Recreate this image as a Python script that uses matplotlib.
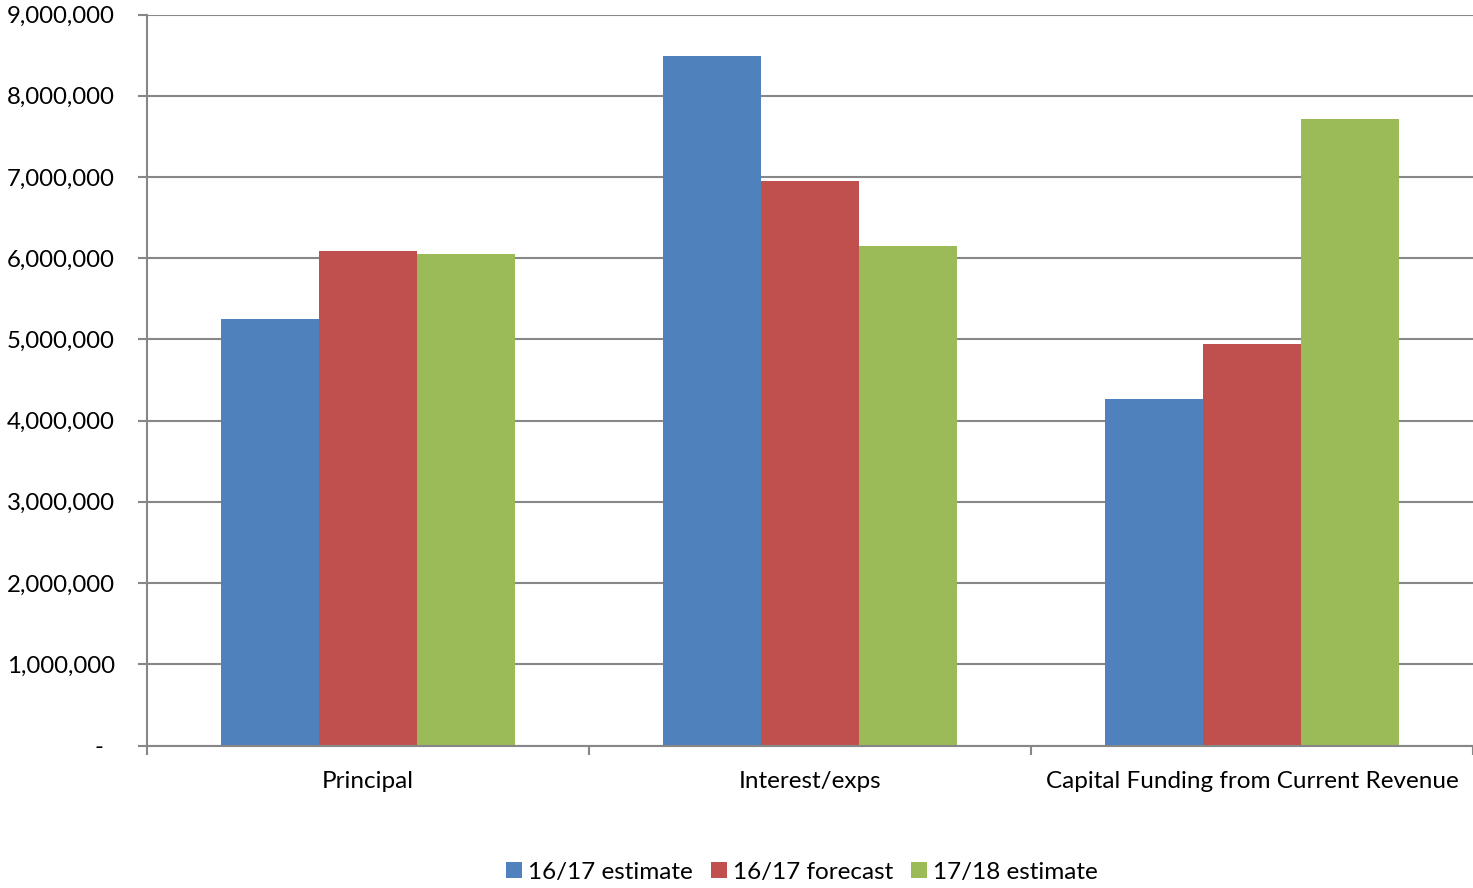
import matplotlib
matplotlib.use("Agg")
import matplotlib.pyplot as plt
import numpy as np
from matplotlib.ticker import FuncFormatter, FixedLocator, NullFormatter
from matplotlib.transforms import ScaledTranslation

categories = ["Principal", "Interest/exps", "Capital Funding from Current Revenue"]
series_names = ["16/17 estimate", "16/17 forecast", "17/18 estimate"]
est_1617 = [5250000, 8490000, 4260000]
fcst_1617 = [6090000, 6950000, 4940000]
est_1718 = [6050000, 6150000, 7710000]
colors = ["#4F81BD", "#C0504D", "#9BBB59"]

plt.rcParams["font.family"] = ["Lato", "DejaVu Sans"]

fig = plt.figure(figsize=(14.73, 8.88), dpi=100)
ax = fig.add_axes([147 / 1473, 1 - 745.5 / 888, 1 - 147 / 1473, (745.5 - 14.5) / 888])

x = np.arange(len(categories))
width = 1 / 4.5
for i, (vals, name, c) in enumerate(zip([est_1617, fcst_1617, est_1718], series_names, colors)):
    ax.bar(x + (i - 1) * width, vals, width, color=c, label=name, zorder=3, linewidth=0)

ax.set_xlim(-0.5, len(categories) - 0.5)
ax.set_ylim(0, 9000000)
ax.set_yticks(np.arange(0, 9000001, 1000000))
ax.yaxis.set_major_formatter(FuncFormatter(lambda v, p: "-" if v == 0 else f"{v:,.0f}"))
ax.grid(axis="y", color="#878787", linewidth=1.5, zorder=0)

# category ticks at group boundaries, labels centered under each group
ax.xaxis.set_major_locator(FixedLocator(np.arange(-0.5, len(categories), 1.0)))
ax.xaxis.set_major_formatter(NullFormatter())
ax.xaxis.set_minor_locator(FixedLocator(x))
ax.set_xticklabels(categories, minor=True)
ax.tick_params(axis="x", which="minor", length=0, pad=18.5, labelsize=17.5, colors="#000000")
ax.tick_params(axis="x", which="major", length=6.5, width=1.5, color="#878787")
ax.tick_params(axis="y", length=6.5, width=1.5, color="#878787", labelsize=17.3, pad=16.5)

for s in ["top", "right"]:
    ax.spines[s].set_visible(False)
for s in ["left", "bottom"]:
    ax.spines[s].set_color("#878787")
    ax.spines[s].set_linewidth(1.5)
ax.spines["bottom"].set_zorder(4)

fig.canvas.draw()
zero_lbl = ax.yaxis.get_major_ticks()[0].label1
zero_lbl.set_transform(zero_lbl.get_transform() + ScaledTranslation(-0.12, 0, fig.dpi_scale_trans))

fig.legend(loc="center", bbox_to_anchor=(802 / 1473, 1 - 872 / 888), ncol=3, frameon=False,
           fontsize=17.5, handlelength=0.65, handleheight=0.65, handletextpad=0.25, columnspacing=0.75)

fig.savefig("out.png", dpi=100)
